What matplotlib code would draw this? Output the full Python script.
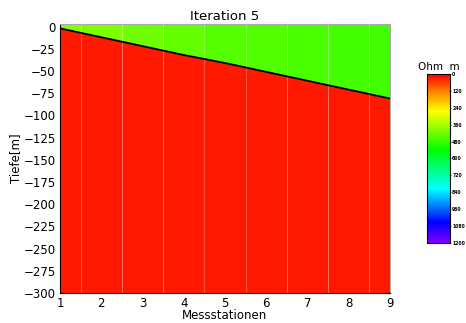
import numpy as np
import matplotlib
matplotlib.use("Agg")
import matplotlib.pyplot as plt
from matplotlib.colors import LinearSegmentedColormap, Normalize
from matplotlib.colorbar import ColorbarBase

stations = [1, 2, 3, 4, 5, 6, 7, 8, 9]
interface_depth = [-2, -12, -22, -32, -41, -51, -61, -71, -81]
rho_top = [398, 406, 420, 434, 446, 454, 460, 465, 469]
rho_bottom = [24, 24, 24, 24, 24, 24, 24, 24, 24]
cbar_ticks = [0, 120, 240, 360, 480, 600, 720, 840, 960, 1080, 1200]

cmap = LinearSegmentedColormap.from_list("rainbow_res", [
    (0.00, "#ff0000"),
    (0.10, "#ff8000"),
    (0.22, "#ffff00"),
    (0.45, "#00ff00"),
    (0.68, "#00ffff"),
    (0.88, "#0000ff"),
    (1.00, "#8000ff"),
])
norm = Normalize(0, 1200)

fig = plt.figure(figsize=(4.66, 3.23), dpi=100)
ax = fig.add_axes([0.1288, 0.0929, 0.708, 0.833])

x = np.array(stations, dtype=float)
z = np.array(interface_depth, dtype=float)
top, bottom = 5, -300

for i, s in enumerate(stations):
    x0 = max(s - 0.5, 1)
    x1 = min(s + 0.5, 9)
    xs = np.linspace(x0, x1, 20)
    zs = np.interp(xs, x, z)
    ax.fill_between(xs, zs, top, color=cmap(norm(rho_top[i])), lw=0)
    ax.fill_between(xs, bottom, zs, color=cmap(norm(rho_bottom[i])), lw=0)

for s in stations[:-1]:
    ax.axvline(s + 0.5, color="white", alpha=0.18, lw=0.8)

ax.plot(x, z, color="black", lw=1.3)

ax.set_xlim(1, 9)
ax.set_ylim(-300, 3)
ax.set_xticks(stations)
ax.set_yticks(np.arange(0, -301, -25))
ax.tick_params(labelsize=8.5, length=0, pad=3)
ax.set_title("Iteration 5", fontsize=9.5, pad=3)
ax.set_xlabel("Messstationen", fontsize=8.5, labelpad=-1)
ax.set_ylabel("Tiefe[m]", fontsize=8.5, labelpad=1)
for sp in ["top", "right"]:
    ax.spines[sp].set_color("#aaaaaa")

cax = fig.add_axes([0.916, 0.248, 0.05, 0.523])
cb = ColorbarBase(cax, cmap=cmap, norm=norm, orientation="vertical")
cax.invert_yaxis()
cb.set_ticks(cbar_ticks)
cax.tick_params(labelsize=3.3, length=1, width=0.5, pad=0.5)
for t in cax.get_yticklabels():
    t.set_fontweight("bold")
cb.outline.set_linewidth(0.8)
cax.set_title("Ohm  m", fontsize=7.5, pad=3)

fig.savefig("out.png", dpi=100)
